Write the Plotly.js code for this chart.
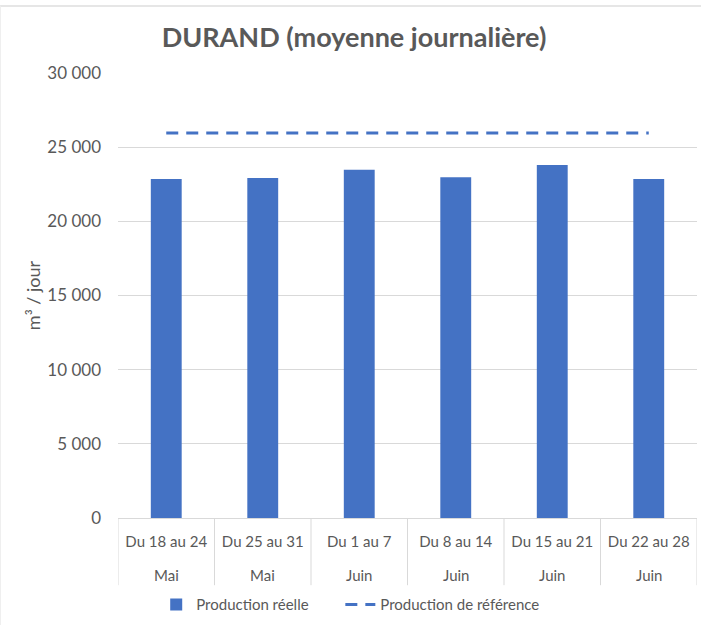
<!DOCTYPE html>
<html>
<head>
<meta charset="utf-8">
<script src="https://cdn.plot.ly/plotly-3.0.1.min.js"></script>
<style>
  html, body { margin: 0; padding: 0; background: #fff; }
  #wrap { position: relative; width: 701px; height: 625px; }
  #chart { width: 701px; height: 625px; }
  #frame { position: absolute; left: 0; top: 5px; width: 701px; height: 620px; border-top: 2px solid #e6e6e6; border-left: 1px solid #efefef; box-sizing: border-box; pointer-events: none; }
</style>
</head>
<body>
<div id="wrap"><div id="chart"></div><div id="frame"></div></div>
<script>
const weeks = ["Du 18 au 24", "Du 25 au 31", "Du 1 au 7", "Du 8 au 14", "Du 15 au 21", "Du 22 au 28"];
const months = ["Mai", "Mai", "Juin", "Juin", "Juin", "Juin"];
const productionReelle = [22850, 22920, 23480, 22980, 23800, 22850];
const productionReference = [25950, 25950, 25950, 25950, 25950, 25950];
const yTicks = [0, 5000, 10000, 15000, 20000, 25000, 30000];

const txt = '#595959';
const font = 'Lato, "Open Sans", sans-serif';

const shapes = [];
for (let i = 0; i <= weeks.length; i++) {
  shapes.push({
    type: 'line', xref: 'x', yref: 'paper',
    x0: i - 0.5, x1: i - 0.5, y0: 0, y1: -0.151,
    line: { color: '#d9d9d9', width: 1 }
  });
}

const annotations = months.map((m, i) => ({
  xref: 'x', yref: 'paper', x: weeks[i], y: -0.128,
  xanchor: 'center', yanchor: 'middle', showarrow: false,
  text: m, font: { family: font, size: 15, color: txt }
}));

const data = [
  {
    type: 'bar', name: 'Production réelle',
    x: weeks, y: productionReelle,
    marker: { color: '#4472C4' },
    width: 0.32,
    hoverinfo: 'y',
    legend: 'legend'
  },
  {
    type: 'scatter', mode: 'lines', name: 'Production de référence',
    x: weeks, y: productionReference,
    line: { color: '#4472C4', width: 3, dash: '12px,8px' },
    hoverinfo: 'y',
    legend: 'legend2'
  }
];

const legendFont = { family: font, size: 15, color: txt };

const layout = {
  width: 701, height: 625,
  margin: { l: 118, r: 4, t: 73, b: 107 },
  paper_bgcolor: '#ffffff', plot_bgcolor: '#ffffff',
  separators: ', ',
  font: { family: font, size: 15, color: txt },
  title: {
    text: '<b>DURAND (moyenne journalière)</b>',
    font: { family: font, size: 27, color: txt },
    x: 0.505, xanchor: 'center', xref: 'container',
    y: 1 - 38 / 625, yanchor: 'middle', yref: 'container'
  },
  xaxis: {
    type: 'category',
    tickvals: weeks, ticktext: weeks,
    showgrid: false, zeroline: false,
    showline: true, linecolor: '#d9d9d9', linewidth: 1,
    ticks: '', ticklabelstandoff: 10,
    tickfont: { family: font, size: 15, color: txt },
    range: [-0.5, weeks.length - 0.5],
    fixedrange: true
  },
  yaxis: {
    range: [0, 30000],
    tickvals: yTicks, tickformat: ',d',
    showgrid: true, gridcolor: '#d9d9d9', gridwidth: 1,
    zeroline: false, showline: false,
    ticks: '', ticklabelstandoff: 16,
    tickfont: { family: font, size: 17, color: txt },
    title: { text: 'm³ / jour', font: { family: font, size: 18, color: txt }, standoff: 2 },
    automargin: false,
    fixedrange: true
  },
  legend: {
    orientation: 'h', x: 0.066, xanchor: 'left', y: -0.195, yanchor: 'middle',
    font: legendFont, itemwidth: 30
  },
  legend2: {
    orientation: 'h', x: 0.384, xanchor: 'left', y: -0.195, yanchor: 'middle',
    font: legendFont, itemwidth: 30
  },
  shapes: shapes,
  annotations: annotations,
  bargap: 0.68,
  showlegend: true
};

Plotly.newPlot('chart', data, layout, { displayModeBar: false, staticPlot: true });
</script>
</body>
</html>
